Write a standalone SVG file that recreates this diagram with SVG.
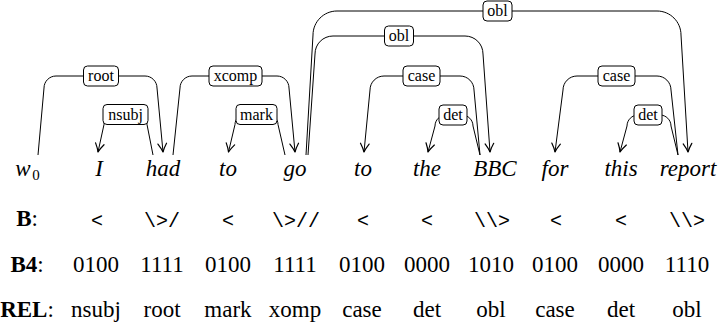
<svg xmlns="http://www.w3.org/2000/svg" width="720" height="331" viewBox="0 0 720 331">
<style>
  .arc { fill: none; stroke: #000; stroke-width: 1; marker-end: url(#arr); }
  .box { fill: #fff; stroke: #000; stroke-width: 1; }
  .t { font-family: "Liberation Serif", "Times New Roman", serif; text-anchor: middle; fill: #000; }
  .lbl { font-size: 16px; }
  .row { font-size: 23px; }
  .sym { font-family: "Liberation Mono", monospace; font-size: 20px; text-anchor: middle; fill: #000; }
  .hd { font-weight: bold; }
</style>
<defs>
  <marker id="arr" markerUnits="userSpaceOnUse" markerWidth="12" markerHeight="12" viewBox="-8 -5 9 10" refX="0" refY="0" orient="auto" overflow="visible">
    <path d="M -7,-3.6 Q -2.8,-0.9 0,0 Q -2.8,0.9 -7,3.6" fill="none" stroke="#000" stroke-width="1" stroke-linecap="round" stroke-linejoin="round"/>
  </marker>
</defs>
<rect width="720" height="331" fill="#fff"/>
<g id="connectors">
  <path id="e-root" class="arc" d="M 38,155 L 44,88 C 44,81.4 49.4,76 56,76 L 145,76 C 151.6,76 157,81.4 157,88 L 163,152"/>
  <path id="e-nsubj" class="arc" d="M 153,155 L 147,124.5 C 147,119 142.5,114.5 137,114.5 L 114,114.5 C 108.5,114.5 104,119 104,124.5 L 98,152"/>
  <path id="e-xcomp" class="arc" d="M 173,155 L 180,88 C 180,81.4 185.4,76 192,76 L 277,76 C 283.6,76 289,81.4 289,88 L 295,152"/>
  <path id="e-mark" class="arc" d="M 285,155 L 278,124.5 C 278,119 273.5,114.5 268,114.5 L 245,114.5 C 239.5,114.5 235,119 235,124.5 L 228.5,152"/>
  <path id="e-obl2" class="arc" d="M 306,155 L 313,35 C 313,21.8 323.7,11 337,11 L 657,11 C 670.3,11 681,21.8 681,35 L 688,152"/>
  <path id="e-obl1" class="arc" d="M 308,155 L 315,54 C 315,44 323,36 333,36 L 465,36 C 475,36 483,44 483,54 L 490,152"/>
  <path id="e-case1" class="arc" d="M 480,155 L 474,90 C 474,82.3 467.7,76 460,76 L 384,76 C 376.3,76 370,82.3 370,90 L 364,152"/>
  <path id="e-det1" class="arc" d="M 480,155 L 473,126 C 473,120 468,115 462,115 L 446,115 C 440,115 435,120 435,126 L 428,152"/>
  <path id="e-case2" class="arc" d="M 678,155 L 671,90 C 671,82.3 664.7,76 657,76 L 577,76 C 569.3,76 563,82.3 563,90 L 555,152"/>
  <path id="e-det2" class="arc" d="M 678,155 L 671,126 C 671,120 666,115 660,115 L 638,115 C 632,115 627,120 627,126 L 620,152"/>
</g>
<g id="label-root"><rect class="box" x="83.5" y="66" width="35" height="20" rx="4"/><text class="t lbl" x="101" y="81">root</text></g>
<g id="label-nsubj"><rect class="box" x="103" y="104.5" width="45" height="20" rx="4"/><text class="t lbl" x="125.5" y="119.5">nsubj</text></g>
<g id="label-xcomp"><rect class="box" x="209" y="66" width="53" height="20" rx="4"/><text class="t lbl" x="235.5" y="81">xcomp</text></g>
<g id="label-mark"><rect class="box" x="236" y="104.5" width="41" height="20" rx="4"/><text class="t lbl" x="256.5" y="119.5">mark</text></g>
<g id="label-obl2"><rect class="box" x="483" y="1" width="29" height="20" rx="4"/><text class="t lbl" x="497.5" y="16">obl</text></g>
<g id="label-obl1"><rect class="box" x="384.5" y="26" width="29" height="20" rx="4"/><text class="t lbl" x="399" y="41">obl</text></g>
<g id="label-case1"><rect class="box" x="403" y="66" width="37" height="20" rx="4"/><text class="t lbl" x="421.5" y="81">case</text></g>
<g id="label-det1"><rect class="box" x="439" y="105" width="28" height="20" rx="4"/><text class="t lbl" x="453" y="120">det</text></g>
<g id="label-case2"><rect class="box" x="598" y="66" width="37" height="20" rx="4"/><text class="t lbl" x="616.5" y="81">case</text></g>
<g id="label-det2"><rect class="box" x="634" y="105" width="28" height="20" rx="4"/><text class="t lbl" x="648" y="120">det</text></g>
<g id="w0"><text class="t row" font-style="italic" x="23" y="176">w</text><text class="t" font-size="15" x="36" y="180">0</text></g>
<g id="w1"><text class="t row" font-style="italic" x="99" y="176">I</text></g>
<g id="w2"><text class="t row" font-style="italic" x="163" y="176">had</text></g>
<g id="w3"><text class="t row" font-style="italic" x="228" y="176">to</text></g>
<g id="w4"><text class="t row" font-style="italic" x="295" y="176">go</text></g>
<g id="w5"><text class="t row" font-style="italic" x="363" y="176">to</text></g>
<g id="w6"><text class="t row" font-style="italic" x="427" y="176">the</text></g>
<g id="w7"><text class="t row" font-style="italic" x="495" y="176">BBC</text></g>
<g id="w8"><text class="t row" font-style="italic" x="555" y="176">for</text></g>
<g id="w9"><text class="t row" font-style="italic" x="621" y="176">this</text></g>
<g id="w10"><text class="t row" font-style="italic" x="688" y="176">report</text></g>
<g id="row-B">
  <text class="t row" x="27" y="226"><tspan class="hd">B</tspan>:</text>
  <text class="sym" x="97" y="227">&lt;</text>
  <text class="sym" x="162" y="227">\&gt;/</text>
  <text class="sym" x="228" y="227">&lt;</text>
  <text class="sym" x="296" y="227">\&gt;//</text>
  <text class="sym" x="363" y="227">&lt;</text>
  <text class="sym" x="427" y="227">&lt;</text>
  <text class="sym" x="492" y="227">\\&gt;</text>
  <text class="sym" x="556" y="227">&lt;</text>
  <text class="sym" x="621" y="227">&lt;</text>
  <text class="sym" x="687" y="227">\\&gt;</text>
</g>
<g id="row-B4">
  <text class="t row" x="27" y="272"><tspan class="hd">B4</tspan>:</text>
  <text class="t row" x="96" y="272">0100</text>
  <text class="t row" x="162" y="272">1111</text>
  <text class="t row" x="228" y="272">0100</text>
  <text class="t row" x="295" y="272">1111</text>
  <text class="t row" x="362" y="272">0100</text>
  <text class="t row" x="427" y="272">0000</text>
  <text class="t row" x="491" y="272">1010</text>
  <text class="t row" x="555" y="272">0100</text>
  <text class="t row" x="621" y="272">0000</text>
  <text class="t row" x="687" y="272">1110</text>
</g>
<g id="row-REL">
  <text class="t row" x="27" y="317"><tspan class="hd">REL</tspan>:</text>
  <text class="t row" x="96" y="317">nsubj</text>
  <text class="t row" x="162" y="317">root</text>
  <text class="t row" x="228" y="317">mark</text>
  <text class="t row" x="295" y="317">xomp</text>
  <text class="t row" x="362" y="317">case</text>
  <text class="t row" x="427" y="317">det</text>
  <text class="t row" x="491" y="317">obl</text>
  <text class="t row" x="555" y="317">case</text>
  <text class="t row" x="621" y="317">det</text>
  <text class="t row" x="687" y="317">obl</text>
</g>
</svg>
